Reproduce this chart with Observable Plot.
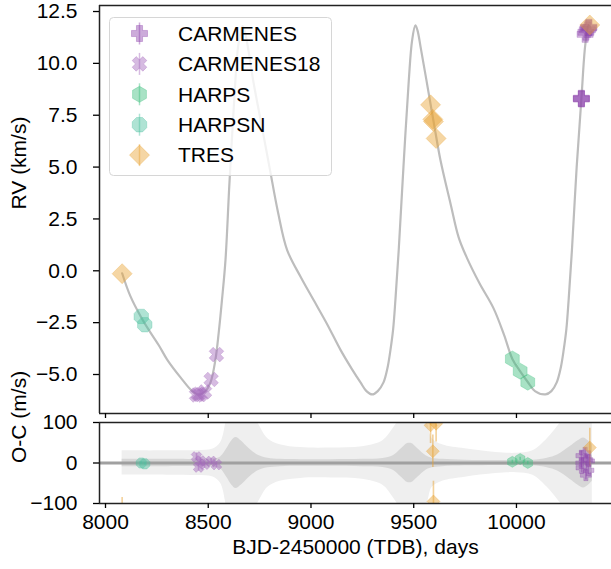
<!DOCTYPE html>
<html><head><meta charset="utf-8">
<script src="https://cdn.jsdelivr.net/npm/d3@7"></script>
<script src="https://cdn.jsdelivr.net/npm/@observablehq/plot@0.6"></script>
<style>
body{margin:0;overflow:hidden;background:#fff;font-family:"Liberation Sans",Arial,Helvetica,sans-serif}
#wrap{position:relative;width:611px;height:569px;overflow:hidden}
#top{position:absolute;left:0;top:0}
#bot{position:absolute;left:0;top:415px}
#legend{position:absolute;left:109px;top:17px}
</style></head><body>
<div id="wrap"><div id="top"></div><div id="bot"></div><div id="legend"></div></div>
<script>
// ---------- data ----------
const xTicks = [8000, 8500, 9000, 9500, 10000];
const yTicksTop = [-5, -2.5, 0, 2.5, 5, 7.5, 10, 12.5];
const yTicksBot = [-100, 0, 100];
const instruments = ["CARMENES", "CARMENES18", "HARPS", "HARPSN", "TRES"];

const carmenesT   = [10315.5, 10316, 10316.5, 10334, 10338, 10345, 10350, 10353];
const carmenesRV  = [8.30, 8.32, 8.28, 11.40, 11.50, 11.62, 11.70, 11.74];
const carmenesOC  = [0, 18, -12, 25, -30, 8, -18, 5];
const carmenesErr = [12, 12, 12, 12, 12, 10, 10, 10];

const carm18T   = [8443, 8453, 8462, 8482, 8514, 8540];
const carm18RV  = [-5.99, -5.95, -5.97, -5.84, -5.24, -4.04];
const carm18OC  = [15, -10, 5, -3, 4, -4];
const carm18Err = [10, 10, 10, 10, 8, 8];

const harpsT   = [9980, 10018, 10055];
const harpsRV  = [-4.25, -4.84, -5.37];
const harpsOC  = [3, 10, 0];
const harpsErr = [4, 4, 4];

const harpsnT   = [8174, 8191];
const harpsnRV  = [-2.20, -2.60];
const harpsnOC  = [0, -2];
const harpsnErr = [3, 3];

const tresT   = [8081, 9582, 9593, 9596, 9609, 10357];
const tresRV  = [-0.14, 8.0, 7.3, 7.2, 6.38, 11.85];
const tresOC  = [-160, 93, 29, -95, 97, 38];
const tresErr = [75, 45, 40, 50, 45, 48];

const modelT  = [8081, 8120, 8174, 8219, 8260, 8300, 8365, 8422, 8455, 8485, 8511, 8535, 8551, 8567, 8584, 8603, 8625, 8645, 8660, 8667, 8676, 8691, 8720, 8760, 8798, 8840, 8884, 8950, 9012, 9080, 9143, 9200, 9241, 9270, 9298, 9325, 9353, 9372, 9387, 9400, 9411, 9427, 9450, 9476, 9492, 9508, 9518, 9535, 9562, 9600, 9630, 9680, 9719, 9760, 9820, 9888, 9940, 9980, 10019, 10055, 10090, 10141, 10170, 10196, 10215, 10230, 10243, 10254, 10270, 10293, 10316, 10335, 10351, 10360];
const modelRV = [-0.12, -1.2, -2.25, -2.98, -3.6, -4.28, -5.14, -5.8, -5.97, -5.82, -5.38, -4.28, -2.98, -1.39, 0.53, 4.2, 8.0, 10.8, 11.6, 11.8, 11.6, 10.9, 9.1, 7.0, 5.0, 2.8, 1.0, -0.3, -1.4, -2.6, -3.8, -4.75, -5.38, -5.8, -5.96, -5.8, -5.38, -4.7, -3.8, -2.8, -1.39, 1.0, 5.0, 9.18, 11.1, 11.83, 11.6, 10.7, 9.18, 7.0, 5.34, 3.2, 1.6, 0.6, -0.6, -1.8, -3.1, -4.25, -4.86, -5.36, -5.8, -5.96, -5.8, -5.38, -4.7, -3.8, -2.8, -1.39, 1.0, 5.0, 8.3, 10.9, 11.83, 11.7];

const bandT     = [8081, 8300, 8450, 8520, 8560, 8590, 8615, 8635, 8660, 8700, 8740, 8790, 8850, 8950, 9100, 9250, 9350, 9400, 9440, 9470, 9490, 9520, 9560, 9590, 9640, 9750, 9900, 10000, 10080, 10150, 10200, 10260, 10300, 10326, 10350, 10369];
const bandInner = [9, 9, 9, 10, 15, 35, 55, 63, 55, 35, 20, 12, 9, 8, 8, 9, 11, 18, 35, 48, 48, 35, 18, 12, 9, 7, 6, 6, 7, 12, 20, 40, 55, 62, 55, 45];
const bandOuter = [30, 30, 31, 34, 50, 110, 160, 170, 160, 130, 100, 60, 45, 38, 37, 40, 55, 85, 115, 130, 130, 120, 105, 60, 45, 35, 26, 24, 30, 60, 90, 130, 160, 170, 160, 150];

// ---------- styling ----------
const colors = {CARMENES: "#8e44ad", CARMENES18: "#a569bd", HARPS: "#3fbf7f", HARPSN: "#4ec0a0", TRES: "#e8a335"};
const opac = {CARMENES: 0.38, CARMENES18: 0.45, HARPS: 0.45, HARPSN: 0.45, TRES: 0.45};
const FONT = "'Liberation Sans', Arial, Helvetica, sans-serif";

function poly(pts) {
  return {draw(ctx, size) {
    const r = Math.sqrt(size / Math.PI);
    pts.forEach(([x, y], i) => i ? ctx.lineTo(x * r, y * r) : ctx.moveTo(x * r, y * r));
    ctx.closePath();
  }};
}
const w = 0.38;
const plusPts = [[-w,-1],[w,-1],[w,-w],[1,-w],[1,w],[w,w],[w,1],[-w,1],[-w,w],[-1,w],[-1,-w],[-w,-w]];
const xPts = plusPts.map(([x, y]) => [(x - y) / Math.SQRT2, (x + y) / Math.SQRT2]);
const hexPts = d3.range(6).map(k => [Math.cos(-Math.PI/2 + k*Math.PI/3), Math.sin(-Math.PI/2 + k*Math.PI/3)]);
const octPts = d3.range(8).map(k => [Math.cos(Math.PI/8 + k*Math.PI/4), Math.sin(Math.PI/8 + k*Math.PI/4)]);
const diaPts = [[0,-1],[1,0],[0,1],[-1,0]];
const symbols = {CARMENES: poly(plusPts), CARMENES18: poly(xPts), HARPS: poly(hexPts), HARPSN: poly(octPts), TRES: poly(diaPts)};
const rTop = {CARMENES: 8, CARMENES18: 7.5, HARPS: 8, HARPSN: 7.8, TRES: 10};
const rBot = {CARMENES: 5.5, CARMENES18: 5.5, HARPS: 5.5, HARPSN: 5.5, TRES: 6.5};

// ---------- tables ----------
function rows(name, T, RV, OC, E) { return T.map((t, i) => ({inst: name, t, rv: RV[i], oc: OC[i], err: E[i]})); }
const obs = [
  ...rows("CARMENES", carmenesT, carmenesRV, carmenesOC, carmenesErr),
  ...rows("CARMENES18", carm18T, carm18RV, carm18OC, carm18Err),
  ...rows("HARPS", harpsT, harpsRV, harpsOC, harpsErr),
  ...rows("HARPSN", harpsnT, harpsnRV, harpsnOC, harpsnErr),
  ...rows("TRES", tresT, tresRV, tresOC, tresErr)
];
const model = modelT.map((t, i) => ({t, rv: modelRV[i]}));
const band = bandT.map((t, i) => ({t, inner: bandInner[i], outer: bandOuter[i]}));

const X_DOMAIN = [7970.8, 10462.5];
const TOP_Y = [-6.88, 12.79];
const SPINE = "#222";

function dotMarks(r) {
  return instruments.map(name => Plot.dot(obs.filter(d => d.inst === name), {
    x: "t", y: r === rTop ? "rv" : "oc", symbol: () => symbols[name], r: r[name],
    fill: colors[name], fillOpacity: opac[name], stroke: colors[name], strokeOpacity: 0.3, strokeWidth: 1,
    clip: r === rBot
  }));
}

const topPlot = Plot.plot({
  width: 611, height: 415, marginLeft: 99, marginRight: 0, marginTop: 5, marginBottom: 2,
  style: {fontFamily: FONT, fontSize: "21px", color: "#000", background: "transparent", overflow: "visible"},
  x: {domain: X_DOMAIN},
  y: {domain: TOP_Y},
  marks: [
    Plot.line(model, {x: "t", y: "rv", stroke: "#bdbdbd", strokeWidth: 2.2, curve: "catmull-rom"}),
    ...dotMarks(rTop),
    Plot.ruleX([X_DOMAIN[0]], {stroke: SPINE, strokeWidth: 1.5}),
    Plot.ruleY(TOP_Y, {stroke: SPINE, strokeWidth: 1.5}),
    Plot.axisY({ticks: yTicksTop, tickSize: 6, tickPadding: 16, tickFormat: d3.format(".1f"), label: null, strokeWidth: 1.3}),
    Plot.axisX({ticks: xTicks, tickSize: 5, tickFormat: () => "", label: null, strokeWidth: 1.3}),
    Plot.text(["RV (km/s)"], {frameAnchor: "left", dx: -80, rotate: -90, fontSize: 21, fill: "#000"})
  ]
});
document.getElementById("top").appendChild(topPlot);

const botPlot = Plot.plot({
  width: 611, height: 154, marginLeft: 99, marginRight: 0, marginTop: 7, marginBottom: 66,
  style: {fontFamily: FONT, fontSize: "21px", color: "#000", background: "transparent", overflow: "visible"},
  x: {domain: X_DOMAIN},
  y: {domain: [-100, 100]},
  marks: [
    Plot.areaY(band, {x: "t", y1: d => -d.outer, y2: d => d.outer, fill: "#efefef", curve: "catmull-rom", clip: true}),
    Plot.areaY(band, {x: "t", y1: d => -d.inner, y2: d => d.inner, fill: "#d7d7d7", curve: "catmull-rom", clip: true}),
    Plot.ruleY([0], {stroke: "#a0a0a0", strokeWidth: 3}),
    ...instruments.map(name => Plot.ruleX(obs.filter(d => d.inst === name), {
      x: "t", y1: d => d.oc - d.err, y2: d => d.oc + d.err, stroke: colors[name], strokeOpacity: 0.5, strokeWidth: 1.6, clip: true})),
    ...dotMarks(rBot),
    Plot.ruleX([X_DOMAIN[0]], {stroke: SPINE, strokeWidth: 1.5}),
    Plot.ruleY([-100, 100], {stroke: SPINE, strokeWidth: 1.5}),
    Plot.axisY({ticks: yTicksBot, tickSize: 6, tickPadding: 16, tickFormat: d3.format("d"), label: null, strokeWidth: 1.3}),
    Plot.axisX({ticks: xTicks, tickSize: 5, tickPadding: 6, tickFormat: d3.format("d"), label: null, strokeWidth: 1.3}),
    Plot.text(["O-C (m/s)"], {frameAnchor: "left", dx: -80, rotate: -90, fontSize: 21, fill: "#000"}),
    Plot.text(["BJD-2450000 (TDB), days"], {frameAnchor: "bottom", dy: 50, fontSize: 21, fill: "#000"})
  ]
});
document.getElementById("bot").appendChild(botPlot);

// ---------- legend ----------
const lw = 223, lh = 159;
const lg = d3.select("#legend").append("svg").attr("width", lw).attr("height", lh)
  .style("font-family", FONT).style("font-size", "21px");
lg.append("rect").attr("x", 0.5).attr("y", 0.5).attr("width", lw - 1).attr("height", lh - 1)
  .attr("rx", 4).attr("fill", "rgba(255,255,255,0.8)").attr("stroke", "#d6d6d6");
instruments.forEach((name, i) => {
  const cy = 16.5 + i * 30.4, cx = 30.5;
  const g = lg.append("g");
  g.append("line").attr("x1", cx).attr("x2", cx).attr("y1", cy - 11).attr("y2", cy + 11)
    .attr("stroke", colors[name]).attr("stroke-opacity", 0.45).attr("stroke-width", 1.5);
  const r = rTop[name];
  g.append("path").attr("transform", `translate(${cx},${cy})`)
    .attr("d", d3.symbol(symbols[name], r * r * Math.PI)())
    .attr("fill", colors[name]).attr("fill-opacity", 0.45)
    .attr("stroke", colors[name]).attr("stroke-opacity", 0.35);
  g.append("text").attr("x", 69).attr("y", cy).attr("dy", "0.35em").text(name);
});
</script>
</body></html>
